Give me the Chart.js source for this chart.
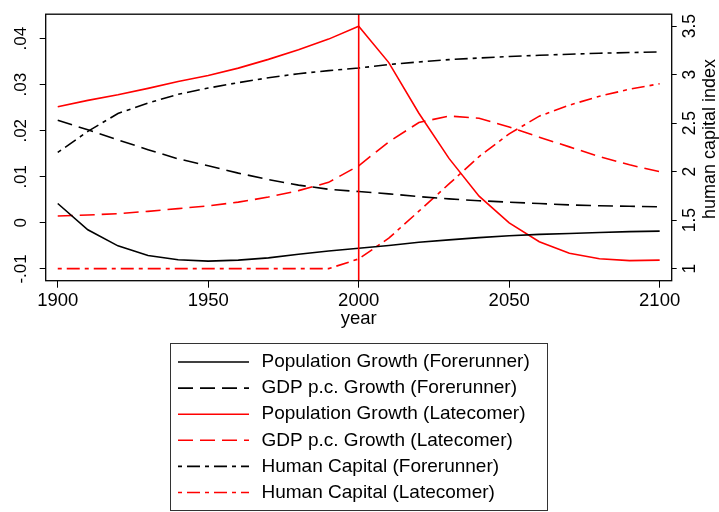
<!DOCTYPE html>
<html>
<head>
<meta charset="utf-8">
<script src="https://cdn.jsdelivr.net/npm/chart.js@4.4.1/dist/chart.umd.min.js"></script>
<style>
html,body{margin:0;padding:0;background:#fff;}
canvas{display:block;}
</style>
</head>
<body>
<canvas id="c" width="719" height="512"></canvas>
<script>
const years = [1900,1910,1920,1930,1940,1950,1960,1970,1980,1990,2000,2010,2020,2030,2040,2050,2060,2070,2080,2090,2100];
const popFore = [0.0042,-0.0015,-0.0050,-0.0071,-0.0080,-0.0083,-0.0081,-0.0076,-0.0068,-0.0061,-0.0055,-0.0049,-0.0042,-0.0037,-0.0032,-0.0028,-0.0025,-0.0023,-0.0021,-0.0019,-0.0018];
const gdpFore = [0.0223,0.0202,0.0180,0.0159,0.0139,0.0124,0.0108,0.0094,0.0082,0.0073,0.0068,0.0063,0.0057,0.0052,0.0048,0.0045,0.0042,0.0039,0.0037,0.0036,0.0035];
const popLate = [0.0252,0.0266,0.0278,0.0292,0.0307,0.0320,0.0336,0.0355,0.0376,0.0399,0.0427,0.0348,0.0238,0.0140,0.0058,0.0000,-0.0041,-0.0066,-0.0078,-0.0082,-0.0081];
const gdpLate = [0.0015,0.0017,0.0020,0.0025,0.0031,0.0037,0.0045,0.0056,0.0070,0.0088,0.0124,0.0176,0.0218,0.0232,0.0227,0.0208,0.0186,0.0165,0.0144,0.0126,0.0111];
const hcFore = [2.198,2.415,2.600,2.707,2.797,2.862,2.918,2.968,3.010,3.042,3.068,3.105,3.131,3.155,3.172,3.187,3.200,3.211,3.221,3.228,3.234];
const hcLate = [1,1,1,1,1,1,1,1,1,1,1.10,1.314,1.592,1.873,2.155,2.390,2.572,2.686,2.778,2.850,2.906];

const xTicks = [1900,1950,2000,2050,2100];
const yTicks = [-0.01,0,0.01,0.02,0.03,0.04];
const yTickLabels = ["-.01","0",".01",".02",".03",".04"];
const y2Ticks = [1,1.5,2,2.5,3,3.5];
const y2TickLabels = ["1","1.5","2","2.5","3","3.5"];
const seriesNames = ["Population Growth (Forerunner)","GDP p.c. Growth (Forerunner)","Population Growth (Latecomer)","GDP p.c. Growth (Latecomer)","Human Capital (Forerunner)","Human Capital (Latecomer)"];
const markerYear = 2000;

const FONT = "'Liberation Sans', Arial, Helvetica, sans-serif";
const LONG = [15,7];
const DASHDOT = [4,5,13,5];

function pts(arr){ return years.map((y,i)=>({x:y,y:arr[i]})); }
function ds(label, arr, color, dash, axis){
  return {label, data: pts(arr), borderColor: color, backgroundColor: color, borderDash: dash, borderWidth: 1.6, pointRadius: 0, tension: 0, fill: false, yAxisID: axis};
}

const plotBox = {
  id: 'plotBox',
  afterDatasetsDraw(chart){
    const {ctx, chartArea: a} = chart;
    const xs = chart.scales.x;
    ctx.save();
    const px = xs.getPixelForValue(markerYear);
    ctx.strokeStyle = '#ff0000'; ctx.lineWidth = 1.6; ctx.setLineDash([]);
    ctx.beginPath(); ctx.moveTo(px, a.top); ctx.lineTo(px, a.bottom); ctx.stroke();
    ctx.strokeStyle = '#000'; ctx.lineWidth = 1.3;
    ctx.strokeRect(a.left, a.top, a.right - a.left, a.bottom - a.top);
    ctx.restore();
  },
  afterDraw(chart){
    const {ctx} = chart;
    ctx.save();
    ctx.font = "18px " + FONT;
    ctx.fillStyle = '#000';
    ctx.translate(710, 139);
    ctx.rotate(-Math.PI/2);
    ctx.textAlign = 'center'; ctx.textBaseline = 'middle';
    ctx.fillText('human capital index', 0, 0);
    ctx.restore();

    ctx.save();
    ctx.strokeStyle = '#333'; ctx.lineWidth = 1;
    ctx.strokeRect(170.5, 343.5, 377, 167);
    ctx.font = "19px " + FONT;
    ctx.textBaseline = 'middle'; ctx.textAlign = 'left';
    chart.data.datasets.forEach((d, i) => {
      const y = 362 + i * 26.1;
      ctx.strokeStyle = d.borderColor; ctx.lineWidth = d.borderWidth;
      ctx.setLineDash(d.borderDash || []);
      ctx.beginPath(); ctx.moveTo(178, y); ctx.lineTo(249, y); ctx.stroke();
      ctx.setLineDash([]);
      ctx.fillStyle = '#000';
      ctx.fillText(d.label, 261.5, y);
    });
    ctx.restore();
  }
};

new Chart(document.getElementById('c'), {
  type: 'line',
  data: {
    datasets: [
      ds(seriesNames[0], popFore, '#000000', [], 'y'),
      ds(seriesNames[1], gdpFore, '#000000', LONG, 'y'),
      ds(seriesNames[2], popLate, '#ff0000', [], 'y'),
      ds(seriesNames[3], gdpLate, '#ff0000', LONG, 'y'),
      ds(seriesNames[4], hcFore, '#000000', DASHDOT, 'y2'),
      ds(seriesNames[5], hcLate, '#ff0000', DASHDOT, 'y2')
    ]
  },
  options: {
    responsive: false,
    animation: false,
    devicePixelRatio: 1,
    layout: { padding: { top: 7, left: 0, right: 0, bottom: 171.3 } },
    plugins: { legend: { display: false }, tooltip: { enabled: false } },
    scales: {
      x: {
        type: 'linear', min: 1896, max: 2104,
        afterBuildTicks: s => { s.ticks = xTicks.map(v => ({value: v})); },
        afterFit: s => { s.height = 60; },
        grid: { display: true, drawOnChartArea: false, drawTicks: true, tickLength: 7, color: '#000', lineWidth: 1 },
        border: { display: false },
        ticks: { color: '#000', font: { family: FONT, size: 18.5 }, padding: 2, maxRotation: 0, autoSkip: false, callback: v => String(v) },
        title: { display: true, text: 'year', color: '#000', font: { family: FONT, size: 18.5 }, padding: { top: 0, bottom: 10.4 } }
      },
      y: {
        type: 'linear', position: 'left', min: -0.01256, max: 0.04531,
        afterBuildTicks: s => { s.ticks = yTicks.map(v => ({value: v})); },
        afterFit: s => { s.width = 45.7; },
        grid: { display: true, drawOnChartArea: false, drawTicks: true, tickLength: 6, color: '#000', lineWidth: 1 },
        border: { display: false },
        ticks: { color: '#000', font: { family: FONT, size: 17 }, padding: 4, minRotation: 90, maxRotation: 90, crossAlign: 'center', autoSkip: false,
          callback: (v) => { const i = yTicks.findIndex(t => Math.abs(t - v) < 1e-9); return i >= 0 ? yTickLabels[i] : ''; } }
      },
      y2: {
        type: 'linear', position: 'right', min: 0.8755, max: 3.6235,
        afterBuildTicks: s => { s.ticks = y2Ticks.map(v => ({value: v})); },
        afterFit: s => { s.width = 47.3; },
        grid: { display: true, drawOnChartArea: false, drawTicks: true, tickLength: 5, color: '#000', lineWidth: 1 },
        border: { display: false },
        ticks: { color: '#000', font: { family: FONT, size: 17.5 }, padding: 1, minRotation: 90, maxRotation: 90, crossAlign: 'center', autoSkip: false,
          callback: (v) => { const i = y2Ticks.findIndex(t => Math.abs(t - v) < 1e-9); return i >= 0 ? y2TickLabels[i] : ''; } }
      }
    }
  },
  plugins: [plotBox]
});
</script>
</body>
</html>
